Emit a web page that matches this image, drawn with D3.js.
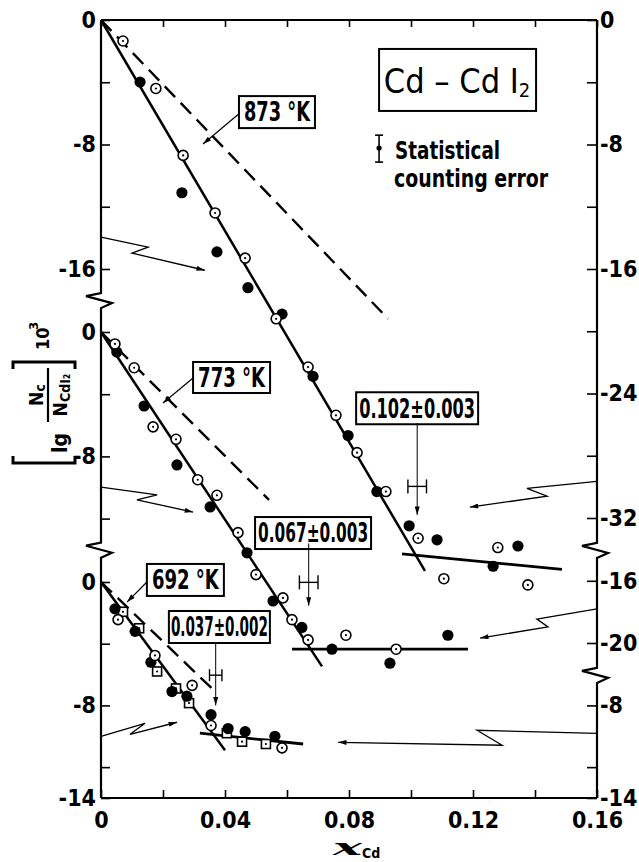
<!DOCTYPE html>
<html>
<head>
<meta charset="utf-8">
<script src="https://cdn.jsdelivr.net/npm/d3@7"></script>
<style>
  body { margin: 0; background: #fff; }
  svg { display: block; font-family: "Liberation Sans Narrow", "Arial Narrow", "DejaVu Sans Condensed", sans-serif; font-weight: bold; }
</style>
</head>
<body>
<svg id="chart" width="639" height="862"></svg>
<script>
// Cd - CdI2 : [lg Nc/NCdI2] 10^3 against x_Cd, three temperatures, each on its own offset axis

// ---- 873 K ----
const open873 = [[0.0071,-1.35],[0.0177,-4.4],[0.0265,-8.7],[0.0368,-12.4],[0.0465,-15.3],[0.0565,-19.2],
  [0.0668,-22.3],[0.0758,-25.4],[0.0826,-27.8],[0.0919,-30.3],[0.1023,-33.3],[0.1106,-35.9],[0.128,-33.9],[0.1377,-36.3]];
const filled873 = [[0.0126,-3.99],[0.0261,-11.1],[0.0374,-14.9],[0.0474,-17.2],[0.0584,-18.9],[0.0684,-22.9],
  [0.0797,-26.7],[0.089,-30.3],[0.0994,-32.5],[0.1084,-33.4],[0.1265,-35.1],[0.1345,-33.8]];
const fit873 = [[0,0],[0.1045,-35.4]];
const plateau873 = [[0.0971,-34.3],[0.1487,-35.3]];
const ideal873 = [[0,0],[0.0926,-19.2]];

// ---- 773 K ----
const open773 = [[0.0045,-0.77],[0.0107,-2.3],[0.0168,-6.1],[0.0242,-6.9],[0.0312,-9.5],[0.0374,-10.5],
  [0.0442,-12.9],[0.05,-15.6],[0.0587,-17.1],[0.0616,-18.5],[0.0668,-19.8],[0.079,-19.5],[0.0952,-20.4]];
const filled773 = [[0.0051,-1.29],[0.0139,-4.76],[0.0245,-8.55],[0.0352,-11.25],[0.0471,-14.2],[0.0555,-17.3],
  [0.0648,-19.0],[0.0745,-20.4],[0.0932,-21.3],[0.1119,-19.5]];
const fit773 = [[0,0],[0.0713,-21.5]];
const plateau773 = [[0.0616,-20.4],[0.1184,-20.4]];
const ideal773 = [[0,0],[0.0542,-10.8]];

// ---- 692 K ----
const open692 = [[0.0055,-2.44],[0.0174,-4.76],[0.0294,-6.7],[0.0355,-9.3],[0.0584,-10.75]];
const filled692 = [[0.0045,-1.74],[0.011,-3.2],[0.0161,-5.2],[0.0229,-7.1],[0.0277,-7.4],[0.0355,-8.6],
  [0.041,-9.5],[0.0465,-9.7],[0.0561,-10.0]];
const squares692 = [[0.0071,-1.93],[0.0123,-3.0],[0.0181,-5.8],[0.0242,-6.9],[0.0284,-7.85],[0.0406,-9.8],
  [0.0455,-10.35],[0.0532,-10.5]];
const fit692 = [[0,0],[0.04,-10.9]];
const plateau692 = [[0.0319,-9.8],[0.0652,-10.5]];
const ideal692 = [[0,0],[0.0368,-7.1]];

// solubility limits (x, +-)
const limits = [[0.102,0.003],[0.067,0.003],[0.037,0.002]];
const limitLabels = ["0.102±0.003","0.067±0.003","0.037±0.002"];
const tempLabels = ["873 °K","773 °K","692 °K"];

// ticks
const xTicks = [0,0.02,0.04,0.06,0.08,0.10,0.12,0.14,0.16];
const xLabels = [0,0.04,0.08,0.12,0.16];

const svg = d3.select("#chart");
const defs = svg.append("defs");
defs.append("marker").attr("id","head")
  .attr("viewBox","0 0 10 6").attr("refX",10).attr("refY",3)
  .attr("markerWidth",10).attr("markerHeight",5).attr("markerUnits","userSpaceOnUse")
  .attr("orient","auto")
  .append("path").attr("d","M0,0L10,3L0,6Z").attr("fill","#000");

const x = d3.scaleLinear().domain([0, 0.16]).range([101, 597]);
const yTop = d3.scaleLinear().domain([0, -16]).range([20, 269]);
const yMid = d3.scaleLinear().domain([0, -20]).range([332, 643]);
const yBot = d3.scaleLinear().domain([0, -14]).range([582, 798]);

const fmtY = d => d === 0 ? "0" : "-" + Math.abs(d);

// ---- frame ----
const zig = (xa, ya) => `L${xa},${ya}L${xa-15},${ya+3}L${xa+11},${ya+10}L${xa},${ya+15}`;
const frame = svg.append("g").attr("fill","none").attr("stroke","#000").attr("stroke-width",2.2);
frame.append("path").attr("d", `M${x(0)},${yTop(0)}${zig(x(0), yTop(-17.55))}V${yMid(-13.55)}${zig(x(0), yMid(-13.55))}V${yBot(-14)}`);
frame.append("path").attr("d", `M${x(0.16)},${yTop(0)}${zig(x(0.16), yTop(-33.6))}V${yMid(-21.6)}${zig(x(0.16), yMid(-21.6))}V${yBot(-14)}`);
frame.append("line").attr("x1",x(0)).attr("x2",x(0.16)).attr("y1",yTop(0)).attr("y2",yTop(0));
frame.append("line").attr("x1",x(0)).attr("x2",x(0.16)).attr("y1",yBot(-14)).attr("y2",yBot(-14));

function styleAxis(g, size) {
  g.select(".domain").remove();
  g.attr("font-size", size).attr("font-family", null);
  g.selectAll(".tick line").attr("stroke-width", 1.6);
}

// x axes
svg.append("g").attr("transform",`translate(0,${yBot(-14)})`)
  .call(d3.axisBottom(x).tickValues(xTicks).tickSizeInner(-8).tickSizeOuter(0).tickPadding(14)
    .tickFormat(d => xLabels.some(v => Math.abs(v-d) < 1e-9) ? (d === 0 ? "0" : d.toFixed(2)) : ""))
  .call(g => styleAxis(g, 23));
svg.append("g").attr("transform",`translate(0,${yTop(0)})`)
  .call(d3.axisTop(x).tickValues(xTicks).tickSizeInner(-7).tickSizeOuter(0).tickFormat(""))
  .call(g => styleAxis(g, 10));

// y axes, one segment per panel
const ySegments = [
  {scale: yTop, side: "left",  ticks: [0,-4,-8,-12,-16], labels: [0,-8,-16]},
  {scale: yMid, side: "left",  ticks: [0,-4,-8,-12], labels: [0,-8]},
  {scale: yBot, side: "left",  ticks: [0,-4,-8,-12,-14], labels: [0,-8,-14]},
  {scale: yTop, side: "right", ticks: [0,-4,-8,-12,-16,-20,-24,-28,-32], labels: [0,-8,-16,-24,-32]},
  {scale: yMid, side: "right", ticks: [-16,-20], labels: [-16,-20]},
  {scale: yBot, side: "right", ticks: [-8,-12,-14], labels: [-8,-14]}
];
ySegments.forEach(s => {
  const ax = (s.side === "left" ? d3.axisLeft(s.scale) : d3.axisRight(s.scale))
    .tickValues(s.ticks).tickSizeInner(s.side === "left" ? -9 : -10).tickSizeOuter(0)
    .tickPadding(s.side === "left" ? 5 : 3)
    .tickFormat(d => s.labels.includes(d) ? fmtY(d) : "");
  svg.append("g").attr("transform", `translate(${s.side === "left" ? x(0) : x(0.16)},0)`)
    .call(ax).call(g => styleAxis(g, 23));
});

// ---- series ----
const panels = [
  {y: yTop, open: open873, filled: filled873, squares: [], fit: fit873, plateau: plateau873, ideal: ideal873},
  {y: yMid, open: open773, filled: filled773, squares: [], fit: fit773, plateau: plateau773, ideal: ideal773},
  {y: yBot, open: open692, filled: filled692, squares: squares692, fit: fit692, plateau: plateau692, ideal: ideal692}
];

panels.forEach(p => {
  const line = d3.line().x(d => x(d[0])).y(d => p.y(d[1]));
  const g = svg.append("g");
  g.append("path").attr("d", line(p.ideal)).attr("fill","none").attr("stroke","#000")
    .attr("stroke-width",2.4).attr("stroke-dasharray","15 8");
  g.append("path").attr("d", line(p.fit)).attr("fill","none").attr("stroke","#000").attr("stroke-width",2.5);
  g.append("path").attr("d", line(p.plateau)).attr("fill","none").attr("stroke","#000").attr("stroke-width",2.8);

  const sq = g.selectAll(".sq").data(p.squares).enter().append("g").attr("class","sq")
    .attr("transform", d => `translate(${x(d[0])},${p.y(d[1])})`);
  sq.append("rect").attr("x",-4.5).attr("y",-4.5).attr("width",9).attr("height",9)
    .attr("fill","#fff").attr("stroke","#000").attr("stroke-width",1.6);
  sq.append("circle").attr("r",1.1).attr("fill","#000");

  g.selectAll(".fc").data(p.filled).enter().append("circle").attr("class","fc")
    .attr("cx", d => x(d[0])).attr("cy", d => p.y(d[1])).attr("r",5.6).attr("fill","#000");

  const oc = g.selectAll(".oc").data(p.open).enter().append("g").attr("class","oc")
    .attr("transform", d => `translate(${x(d[0])},${p.y(d[1])})`);
  oc.append("circle").attr("r",5).attr("fill","#fff").attr("stroke","#000").attr("stroke-width",1.6);
  oc.append("circle").attr("r",1.1).attr("fill","#000");
});

// ---- annotations (positions in data units of each panel) ----
function labelBox(cx, top, scale, w, h, txt, size, len) {
  const x0 = x(cx), y0 = scale(top);
  svg.append("rect").attr("x", x0).attr("y", y0).attr("width", w).attr("height", h)
    .attr("fill","#fff").attr("stroke","#000").attr("stroke-width",2);
  svg.append("text").attr("x", x0 + w/2).attr("y", y0 + h/2 + size*0.36)
    .attr("text-anchor","middle").attr("font-size", size)
    .attr("textLength", len).attr("lengthAdjust","spacingAndGlyphs").text(txt);
}
function leader(pts, scale, w) {
  svg.append("path").attr("d", d3.line().x(d => x(d[0])).y(d => scale(d[1]))(pts))
    .attr("fill","none").attr("stroke","#000").attr("stroke-width", w || 1.2)
    .attr("marker-end","url(#head)");
}
function errBar(cx, dx, yv, scale, cap) {
  const yy = scale(yv);
  const g = svg.append("g").attr("stroke","#000").attr("stroke-width",1.4);
  g.append("line").attr("x1", x(cx-dx)).attr("x2", x(cx+dx)).attr("y1", yy).attr("y2", yy);
  [cx-dx, cx+dx].forEach(v => g.append("line").attr("x1", x(v)).attr("x2", x(v))
    .attr("y1", yy-cap/2).attr("y2", yy+cap/2));
}

// temperature labels
labelBox(0.0445, -4.89, yTop, 76, 32, tempLabels[0], 26, 66);
leader([[0.0448,-5.98],[0.0329,-7.97]], yTop);
labelBox(0.0297, -1.93, yMid, 77, 31, tempLabels[1], 26, 67);
leader([[0.0297,-2.96],[0.02,-4.57]], yMid);
labelBox(0.0148, 1.17, yBot, 77, 32, tempLabels[2], 26, 67);
leader([[0.0148,0],[0.0084,-1.3]], yBot);

// solubility limits
const limitAnn = [
  {scale: yTop, left: 0.0823, top: -23.92, w: 122, len: 116, from: -25.9, to: -31.8, bar: -29.97, cap: 14},
  {scale: yMid, left: 0.0497, top: -11.9,  w: 116, len: 110, from: -13.6, to: -17.6, bar: -16.1, cap: 14},
  {scale: yBot, left: 0.0219, top: -1.88,  w: 101, len: 97,  from: -3.96, to: -8.0,  bar: -6.04, cap: 12}
];
limitAnn.forEach((a, i) => {
  labelBox(a.left, a.top, a.scale, a.w, 32, limitLabels[i], 26, a.len);
  leader([[limits[i][0], a.from],[limits[i][0], a.to]], a.scale, 1);
  errBar(limits[i][0], limits[i][1], a.bar, a.scale, a.cap);
});

// zig-zag arrows showing which axis belongs to which curve
const axisArrows = [
  {scale: yTop, pts: [[0,-13.95],[0.0152,-14.6],[0.0100,-14.98],[0.0335,-16.08]]},
  {scale: yMid, pts: [[0,-9.97],[0.0181,-10.48],[0.0116,-10.8],[0.0297,-11.58]]},
  {scale: yBot, pts: [[0,-10.0],[0.0142,-9.16],[0.0094,-9.87],[0.0245,-9.09]]},
  {scale: yTop, pts: [[0.16,-29.65],[0.1374,-30.1],[0.1439,-30.6],[0.119,-31.3]]},
  {scale: yMid, pts: [[0.16,-17.81],[0.1406,-18.46],[0.1442,-18.97],[0.1223,-19.68]]},
  {scale: yBot, pts: [[0.16,-9.81],[0.1213,-9.61],[0.1294,-10.58],[0.0765,-10.39]]}
];
axisArrows.forEach(a => leader(a.pts, a.scale, 1.3));

// system box
const sys = svg.append("g");
sys.append("rect").attr("x", x(0.0897)).attr("y", yTop(-1.86)).attr("width",157).attr("height",62)
  .attr("fill","#fff").attr("stroke","#000").attr("stroke-width",2);
const st = sys.append("text").attr("x", x(0.0897) + 78).attr("y", yTop(-1.86) + 44)
  .attr("text-anchor","middle").attr("font-size",34).attr("font-weight","normal");
st.append("tspan").text("Cd – Cd I");
st.append("tspan").attr("font-size",20).attr("dy",4).text("2");

// legend: statistical counting error
const lg = svg.append("g").attr("stroke","#000").attr("stroke-width",1.6);
const lx = x(0.0897);
lg.append("line").attr("x1",lx).attr("x2",lx).attr("y1",yTop(-7.4)).attr("y2",yTop(-9.13));
[-7.4,-9.13].forEach(v => lg.append("line").attr("x1",lx-4).attr("x2",lx+4).attr("y1",yTop(v)).attr("y2",yTop(v)));
svg.append("circle").attr("cx",lx).attr("cy",yTop(-8.23)).attr("r",2.6).attr("fill","#000");
svg.append("text").attr("x", lx + 16).attr("y", 159).attr("font-size",24)
  .attr("textLength",105).attr("lengthAdjust","spacingAndGlyphs").text("Statistical");
svg.append("text").attr("x", lx + 15).attr("y", 187).attr("font-size",24)
  .attr("textLength",154).attr("lengthAdjust","spacingAndGlyphs").text("counting error");

// ---- axis titles ----
const xt = svg.append("text").attr("x",333).attr("y",855);
xt.append("tspan").attr("font-family","DejaVu Serif").attr("font-style","italic").attr("font-size",22)
  .attr("textLength",29).attr("lengthAdjust","spacingAndGlyphs").text("x");
xt.append("tspan").attr("font-size",14).attr("dy",3).text("Cd");

const yl = svg.append("g").attr("transform","translate(70,470) rotate(-90)");
yl.append("path").attr("d","M14,-57H7V5H14").attr("fill","none").attr("stroke","#000").attr("stroke-width",3);
yl.append("path").attr("d","M101,-57H108V5H101").attr("fill","none").attr("stroke","#000").attr("stroke-width",3);
yl.append("text").attr("x",17).attr("y",-3).attr("font-size",21).text("lg");
yl.append("line").attr("x1",48).attr("x2",102).attr("y1",-22).attr("y2",-22).attr("stroke","#000").attr("stroke-width",2.2);
const num = yl.append("text").attr("x",75).attr("y",-27).attr("text-anchor","middle").attr("font-size",19);
num.append("tspan").text("N");
num.append("tspan").attr("font-size",14).attr("dy",2).text("c");
const den = yl.append("text").attr("x",75).attr("y",-3).attr("text-anchor","middle").attr("font-size",19);
den.append("tspan").text("N");
den.append("tspan").attr("font-size",14).attr("dy",3).text("CdI₂");
yl.append("text").attr("x",120).attr("y",-21).attr("font-size",18).text("10");
yl.append("text").attr("x",140).attr("y",-32).attr("font-size",13).text("3");
</script>
</body>
</html>
